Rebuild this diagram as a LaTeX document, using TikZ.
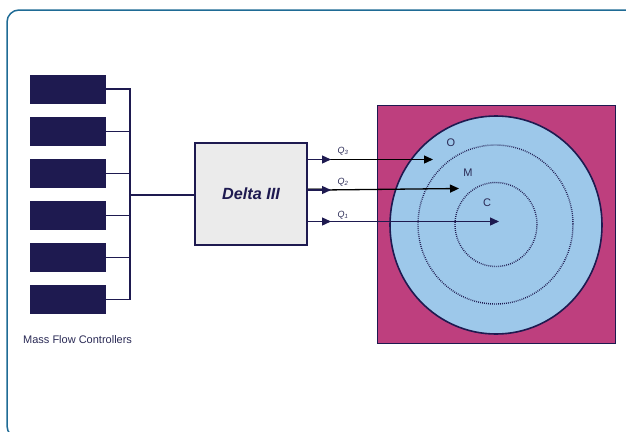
\documentclass[tikz,border=0pt]{standalone}
\usepackage{fontspec}
\setmainfont{Liberation Sans}
\usetikzlibrary{arrows.meta}
\definecolor{navy}{HTML}{1E1A50}
\definecolor{framec}{HTML}{1F6B95}
\definecolor{wafer}{HTML}{BE3F7E}
\definecolor{disc}{HTML}{9DC8EA}
\definecolor{boxgray}{HTML}{EBEBEB}
\definecolor{txt}{HTML}{2A2A55}
\tikzset{
  mfc/.style={fill=navy, draw=none, minimum width=76pt, minimum height=29pt, inner sep=0pt},
  wire/.style={draw=navy, line width=1.5pt},
  flow/.style={line width=1.3pt, -{Triangle[length=9pt,width=8pt]}},
  lbl/.style={text=txt, font=\fontsize{11}{12}\selectfont, inner sep=0pt},
  qlbl/.style={text=txt, font=\fontsize{9}{10}\selectfont\itshape, inner sep=0pt},
  ring/.style={draw=navy, line width=1.4pt, dash pattern=on 0.8pt off 1.2pt}
}
\begin{document}
\begin{tikzpicture}[x=1pt,y=-1pt]
\useasboundingbox (0,0) rectangle (626,431);
\begin{scope}
\clip (0,0) rectangle (626,431);
\draw[framec, line width=1.5pt, rounded corners=12pt] (7,10) rectangle (660,438);
\end{scope}
% mass flow controllers
\foreach \i/\y in {1/89,2/131.5,3/173.5,4/215.5,5/257.5,6/299.5}{
  \node[mfc] (m\i) at (67.5,\y) {};
}
\coordinate (bt) at (130,89);
\coordinate (bb) at (130,299.5);
\coordinate (bm) at (130,195);
\foreach \i in {1,...,6}{
  \draw[wire] (m\i.east) -- (m\i.east -| bt);
}
\draw[wire, line cap=rect] (bt) -- (bb);
\node[lbl, anchor=west, font=\fontsize{11}{13}\selectfont] (mfclabel) at (23,340) {Mass Flow Controllers};
% Delta III
\node[draw=navy, line width=1.5pt, fill=boxgray, minimum width=112pt, minimum height=102pt, inner sep=0pt,
      font=\fontsize{16.2}{19}\selectfont\bfseries\itshape, text=navy] (delta) at (251,194) {Delta III};
\draw[wire] (bm) -- (delta.west |- bm);
% wafer
\node[fill=wafer, draw=navy, line width=0.8pt, minimum width=238pt, minimum height=238pt, inner sep=0pt] (wf) at (496,224) {};
\draw[navy, fill=disc, line width=1.6pt] (496,225) ellipse [x radius=106, y radius=109];
\draw[ring] (495.5,224.5) ellipse [x radius=77.5, y radius=79.5];
\draw[ring] (496,224.5) ellipse [x radius=41, y radius=42];
\node[lbl] (O) at (451,143) {O};
\node[lbl] (M) at (468,173) {M};
\node[lbl] (C) at (487,203) {C};
% flows
\coordinate (a3s) at (delta.east |- 0,159.5);
\coordinate (a3m) at (331,159.5);
\coordinate (a3e) at (433,159.5);
\coordinate (a2s) at (delta.east |- 0,190);
\coordinate (a2m) at (331,190);
\coordinate (a2e) at (459,188.5);
\coordinate (a1s) at (delta.east |- 0,221.5);
\coordinate (a1m) at (331,221.5);
\coordinate (a1e) at (499,221.5);
\draw[flow, black] (a3m) ++(-8,0) -- (a3e);
\draw[flow, navy] (a3s) -- (a3m);
\draw[gray, line width=1pt] (delta.east |- 0,188.5) -- (323,188.5);
\draw[flow, black] (a2m) ++(-8,0) -- (a2e);
\draw[flow, navy] (a2s) -- (a2m);
\draw[flow, navy] (a1s) -- (a1e);
\draw[flow, navy] (a1s) -- (a1m);
\node[qlbl] (q3) at (343,151) {Q\textsubscript{3}};
\node[qlbl] (q2) at (343,182) {Q\textsubscript{2}};
\node[qlbl] (q1) at (343,215) {Q\textsubscript{1}};
\end{tikzpicture}
\end{document}
